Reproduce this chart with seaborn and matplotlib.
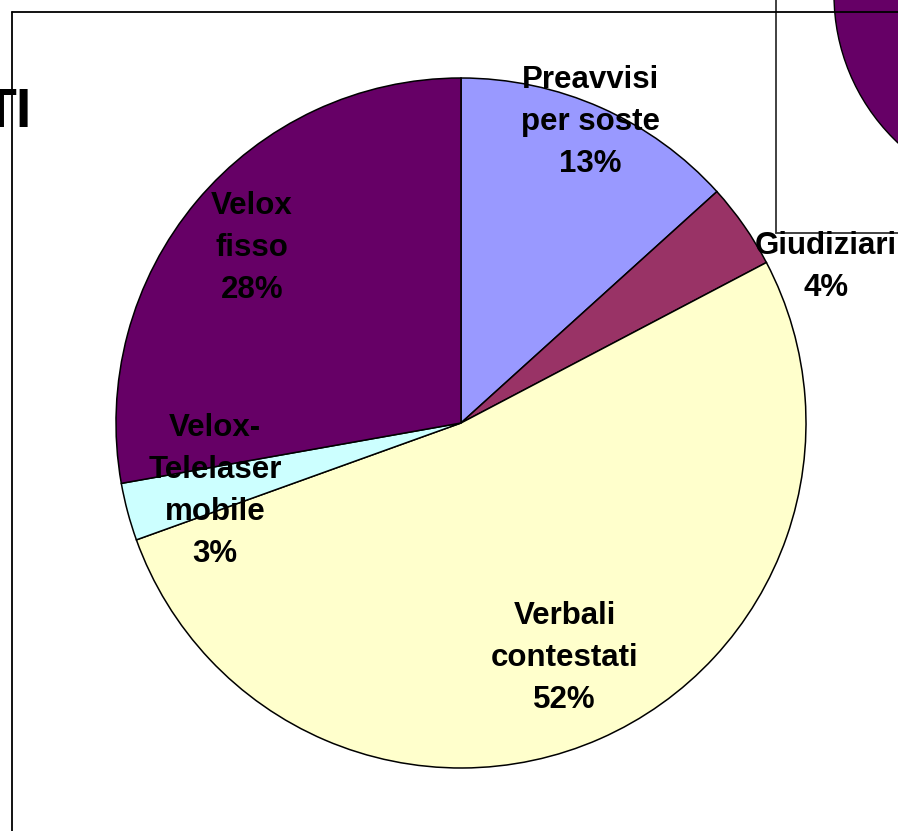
import numpy as np
import matplotlib
matplotlib.use("Agg")
import matplotlib.pyplot as plt
import seaborn as sns

# -------------------------------
# Data
# -------------------------------
categories = ["Preavvisi\nper soste", "Giudiziari", "Verbali\ncontestati",
              "Velox-\nTelelaser\nmobile", "Velox\nfisso"]
shares = [13.3, 4.0, 52.2, 2.7, 27.8]
pct_labels = ["13%", "4%", "52%", "3%", "28%"]
colors = ["#9999FF", "#993366", "#FFFFCC", "#CCFFFF", "#660066"]

# label placement (fraction of radius, angle shift in degrees)
label_r = [0.95, 1.15, 0.745, 0.74, 0.79]
label_shift = [0.7, -11.7, 0.0, 0.5, 0.0]

sns.set_theme(style="white")
plt.rcParams["font.family"] = ["Liberation Sans", "DejaVu Sans"]

W, H = 898, 831
fig = plt.figure(figsize=(W / 100, H / 100), dpi=100)
ax = fig.add_axes([0, 0, 1, 1])

cx, cy, R = 461, H - 423, 345

# frame lines of the slide
ax.plot([12, W], [H - 11.5, H - 11.5], color="black", lw=1.3, zorder=5)
ax.plot([12, 12], [H - 11.5, 0], color="black", lw=1.3, zorder=1)
ax.plot([776, 776], [H, H - 232.5], color="#333333", lw=1.3, zorder=1)
ax.plot([776, W], [H - 232.5, H - 232.5], color="#333333", lw=1.3, zorder=1)

# second pie peeking from the corner
corner = plt.Circle((1037, H + 5), 203, facecolor="#660066", edgecolor="black",
                    lw=1, zorder=2)
ax.add_patch(corner)
ax.text(872, H + 3, "28%", ha="center", va="baseline", fontsize=22.5,
        fontweight="bold", color="black", zorder=3)

# cropped title
ax.text(32, H - 127, "TI", ha="right", va="baseline", fontsize=40,
        fontweight="bold", color="black", zorder=6)

wedges, _ = ax.pie(shares, colors=colors, startangle=90, counterclock=False,
                   center=(cx, cy), radius=R, frame=True,
                   wedgeprops=dict(edgecolor="black", linewidth=1.1))
ax.set_xlim(0, W)
ax.set_ylim(0, H)
ax.set_aspect("equal")
ax.axis("off")

for w, name, pct, rr, sh in zip(wedges, categories, pct_labels, label_r, label_shift):
    ang = np.deg2rad((w.theta1 + w.theta2) / 2 + sh)
    x = cx + rr * R * np.cos(ang)
    y = cy + rr * R * np.sin(ang)
    ax.text(x, y, f"{name}\n{pct}", ha="center", va="center", fontsize=22.5,
            fontweight="bold", color="black", linespacing=1.52, zorder=6)

fig.savefig("out.png", dpi=100)
